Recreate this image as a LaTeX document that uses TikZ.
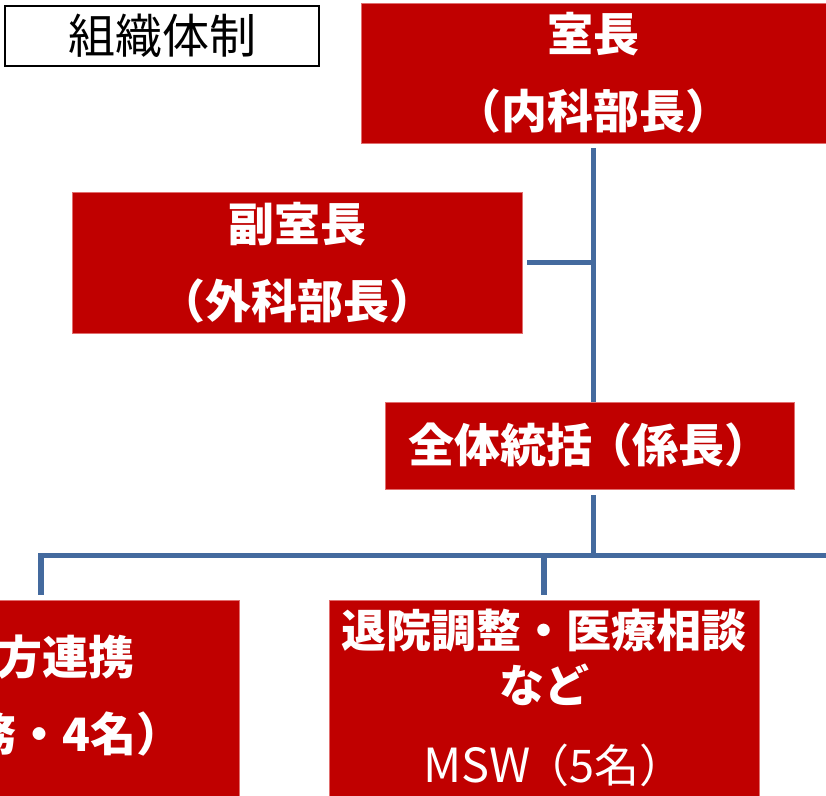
\documentclass[tikz,border=0pt]{standalone}
\usepackage{fontspec}
\newfontfamily\jp{Noto Sans CJK JP}
\definecolor{boxred}{RGB}{192,0,0}
\definecolor{boxedge}{RGB}{225,110,110}
\definecolor{linkblue}{RGB}{68,106,158}
\begin{document}
\begin{tikzpicture}[x=1pt,y=-1pt,
  redbox/.style={rectangle, fill=boxred, draw=boxedge, line width=0.8pt, inner sep=0pt, text=white, align=center, font=\jp\bfseries\fontsize{46}{77}\selectfont},
  wtext/.style={text=white, inner sep=0pt, align=center, font=\jp\bfseries\fontsize{46}{77}\selectfont},
  conn/.style={draw=linkblue, line width=5.5pt, line cap=butt, line join=miter}]
\useasboundingbox (0,0) rectangle (826,795);
\clip (0,0) rectangle (826,795);
% title
\node[draw=black, line width=2pt, minimum width=314pt, minimum height=60pt, inner sep=0pt, font=\jp\fontsize{47}{47}\selectfont] (title) at (162,35.5) {組織体制};
% boxes
\node[redbox, minimum width=465pt, minimum height=140pt] (shicho) at (593.5,73) {室長\\（内科部長）};
\node[redbox, minimum width=450pt, minimum height=141pt] (fuku) at (297,262.5) {副室長\\（外科部長）};
\node[redbox, minimum width=409pt, minimum height=87pt] (zentai) at (589.5,445.5) {全体統括\kern-6pt（係長）};
\node[redbox, minimum width=396pt, minimum height=230pt] (lft) at (41,715) {};
\node[redbox, minimum width=430pt, minimum height=230pt] (mid) at (544,715) {};
% texts in lower boxes
\node[wtext, anchor=east] (lft1) at (135,657) {方連携};
\node[wtext, anchor=east] (lft2) at (183,734) {務・4名）};
\node[wtext, font=\jp\bfseries\fontsize{45}{55}\selectfont] (midt) at (544,698) {退院調整・医療相談\\など\\[25pt]{\mdseries\kern20pt{\fontsize{47}{55}\selectfont MSW}\kern-6pt（5名）}};
% connectors
\coordinate (bus) at (593.5,555.5);
\coordinate (busend) at (840,555.5);
\draw[conn] ([yshift=-5pt]shicho.south) -- (zentai.north -| shicho.south) ++(0,-6);
\draw[conn] ([xshift=5pt]fuku.east) -- (fuku.east -| shicho.south);
\draw[conn] ([yshift=-6pt]zentai.south -| shicho.south) -- (bus);
\draw[conn] ([yshift=5pt]lft.north) -- (lft.north |- bus) -- (busend);
\draw[conn] ([yshift=5pt]mid.north) -- (mid.north |- bus);
\end{tikzpicture}
\end{document}
